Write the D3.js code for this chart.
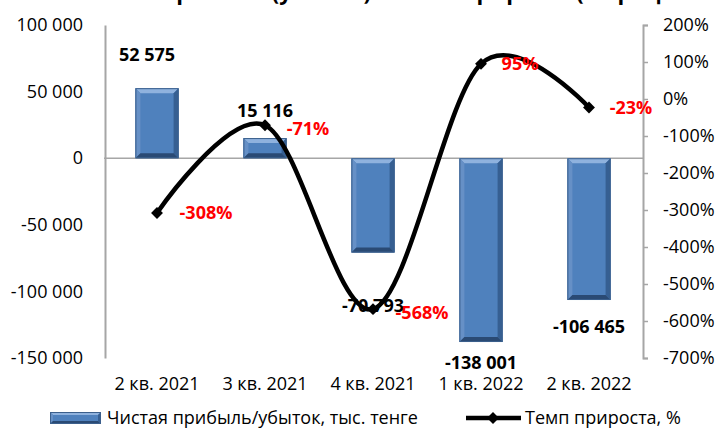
<!DOCTYPE html>
<html>
<head>
<meta charset="utf-8">
<script src="https://cdn.jsdelivr.net/npm/d3@7"></script>
<style>
  body { margin: 0; background: #fff; }
  svg { display: block; font-family: 'Open Sans', sans-serif; }
</style>
</head>
<body>
<svg class="chart" width="717" height="430"></svg>
<script>
const quarters = ['2 кв. 2021', '3 кв. 2021', '4 кв. 2021', '1 кв. 2022', '2 кв. 2022'];
const profit = [52575, 15116, -70793, -138001, -106465];
const growth = [-308, -71, -568, 95, -23];
const leftTicks = [-150000, -100000, -50000, 0, 50000, 100000];
const rightTicks = [-700, -600, -500, -400, -300, -200, -100, 0, 100, 200];

// label nudges (px) from the end of the bar / from the marker
const barLabelShift = [[-10, -34], [0, -28], [0, 53], [0, 21], [0, 27]];
const pctLabelShift = [[49, 0], [43, 3], [49, 3], [39, 0], [42, 0]];

const svg = d3.select('svg.chart');

const loc = d3.formatLocale({ decimal: ',', thousands: ' ', grouping: [3], currency: ['', ''], minus: '-' });
const fmt = loc.format(',');

const x = d3.scaleBand().domain(quarters).range([103, 643]).paddingInner(0.6).paddingOuter(0.3);
const y = d3.scaleLinear().domain([-150000, 100000]).range([358, 25]);
const y2 = d3.scaleLinear().domain([-700, 200]).range([358, 25]);

const axisColor = '#a6a6a6';

// title (cut off at the top edge, only descenders show)
svg.append('text')
    .attr('x', 404).attr('y', 0)
    .attr('text-anchor', 'middle')
    .attr('font-size', 22).attr('font-weight', 'bold')
    .text('Чистая прибыль (убыток) и темп прироста (в процентах)');

// zero line
svg.append('line')
    .attr('x1', 104).attr('x2', 643)
    .attr('y1', y(0)).attr('y2', y(0))
    .attr('stroke', axisColor).attr('stroke-width', 1.5);

// left axis
const gl = svg.append('g')
    .attr('transform', 'translate(105,0)')
    .call(d3.axisLeft(y).tickValues(leftTicks).tickSize(0).tickPadding(22).tickFormat(fmt));
gl.select('.domain').attr('stroke', axisColor).attr('stroke-width', 2);
gl.selectAll('text').attr('font-size', 18).attr('font-family', 'Open Sans').attr('fill', '#000');

// right axis
const gr = svg.append('g')
    .attr('transform', 'translate(643,0)')
    .call(d3.axisRight(y2).tickValues(rightTicks).tickSize(5).tickSizeOuter(5).tickPadding(15).tickFormat(d => d + '%'));
gr.select('.domain').attr('stroke', axisColor).attr('stroke-width', 2);
gr.selectAll('.tick line').attr('stroke', axisColor).attr('stroke-width', 1.5);
gr.selectAll('text').attr('font-size', 18).attr('font-family', 'Open Sans').attr('fill', '#000');

// category labels
const gb = svg.append('g')
    .attr('transform', 'translate(0,358)')
    .call(d3.axisBottom(x).tickSize(0).tickPadding(19));
gb.select('.domain').remove();
gb.selectAll('text').attr('font-size', 18).attr('font-family', 'Open Sans').attr('fill', '#000');

// bevelled bar
const drawBar = (g, bx, by, bw, bh, b) => {
    g.append('rect').attr('x', bx).attr('y', by).attr('width', bw).attr('height', bh)
        .attr('fill', '#4f81bd');
    const pts = {
        top: [[bx, by], [bx + bw, by], [bx + bw - b, by + b], [bx + b, by + b]],
        left: [[bx, by], [bx + b, by + b], [bx + b, by + bh - b], [bx, by + bh]],
        right: [[bx + bw, by], [bx + bw, by + bh], [bx + bw - b, by + bh - b], [bx + bw - b, by + b]],
        bottom: [[bx, by + bh], [bx + b, by + bh - b], [bx + bw - b, by + bh - b], [bx + bw, by + bh]]
    };
    const fills = { top: '#8fb2de', left: '#6690c6', right: '#365f92', bottom: '#2a4a74' };
    Object.keys(pts).forEach(k => {
        g.append('polygon').attr('points', pts[k].map(p => p.join(',')).join(' ')).attr('fill', fills[k]);
    });
    g.append('rect').attr('x', bx + 0.5).attr('y', by + 0.5).attr('width', bw - 1).attr('height', bh - 1)
        .attr('fill', 'none').attr('stroke', '#3b5f8c').attr('stroke-width', 1);
};

const bars = svg.append('g');
profit.forEach((v, i) => {
    const top = y(Math.max(0, v));
    const h = Math.abs(y(v) - y(0));
    drawBar(bars, x(quarters[i]), top, x.bandwidth(), h, 5);
});

// growth line
const cx = i => x(quarters[i]) + x.bandwidth() / 2;
const line = d3.line()
    .x((d, i) => cx(i))
    .y(d => y2(d))
    .curve(d3.curveCardinal.tension(0));

svg.append('path')
    .datum(growth)
    .attr('d', line)
    .attr('fill', 'none')
    .attr('stroke', '#000')
    .attr('stroke-width', 4.5)
    .attr('stroke-linecap', 'round');

const diamond = d3.symbol().type(d3.symbolDiamond2).size(90);
svg.selectAll('path.marker').data(growth)
    .enter().append('path')
    .attr('class', 'marker')
    .attr('d', diamond)
    .attr('transform', (d, i) => `translate(${cx(i)},${y2(d)})`)
    .attr('fill', '#000');

// bar value labels
svg.selectAll('text.barlabel').data(profit)
    .enter().append('text')
    .attr('class', 'barlabel')
    .attr('x', (d, i) => cx(i) + barLabelShift[i][0])
    .attr('y', (d, i) => y(d) + barLabelShift[i][1])
    .attr('dy', '0.36em')
    .attr('text-anchor', 'middle')
    .attr('font-size', 18).attr('font-weight', 'bold')
    .text(d => fmt(d));

// growth labels
svg.selectAll('text.pctlabel').data(growth)
    .enter().append('text')
    .attr('class', 'pctlabel')
    .attr('x', (d, i) => cx(i) + pctLabelShift[i][0])
    .attr('y', (d, i) => y2(d) + pctLabelShift[i][1])
    .attr('dy', '0.36em')
    .attr('text-anchor', 'middle')
    .attr('font-size', 18).attr('font-weight', 'bold')
    .attr('fill', '#ff0000')
    .text(d => d + '%');

// legend
const lg = svg.append('g');
drawBar(lg, 50, 412, 51, 12, 3);
lg.append('text').attr('x', 107).attr('y', 418).attr('dy', '0.36em')
    .attr('font-size', 18).text('Чистая прибыль/убыток, тыс. тенге');
lg.append('line').attr('x1', 466).attr('x2', 521).attr('y1', 418).attr('y2', 418)
    .attr('stroke', '#000').attr('stroke-width', 4.5);
lg.append('path').attr('d', diamond).attr('transform', 'translate(493,418)').attr('fill', '#000');
lg.append('text').attr('x', 525).attr('y', 418).attr('dy', '0.36em')
    .attr('font-size', 18).text('Темп прироста, %');
</script>
</body>
</html>
